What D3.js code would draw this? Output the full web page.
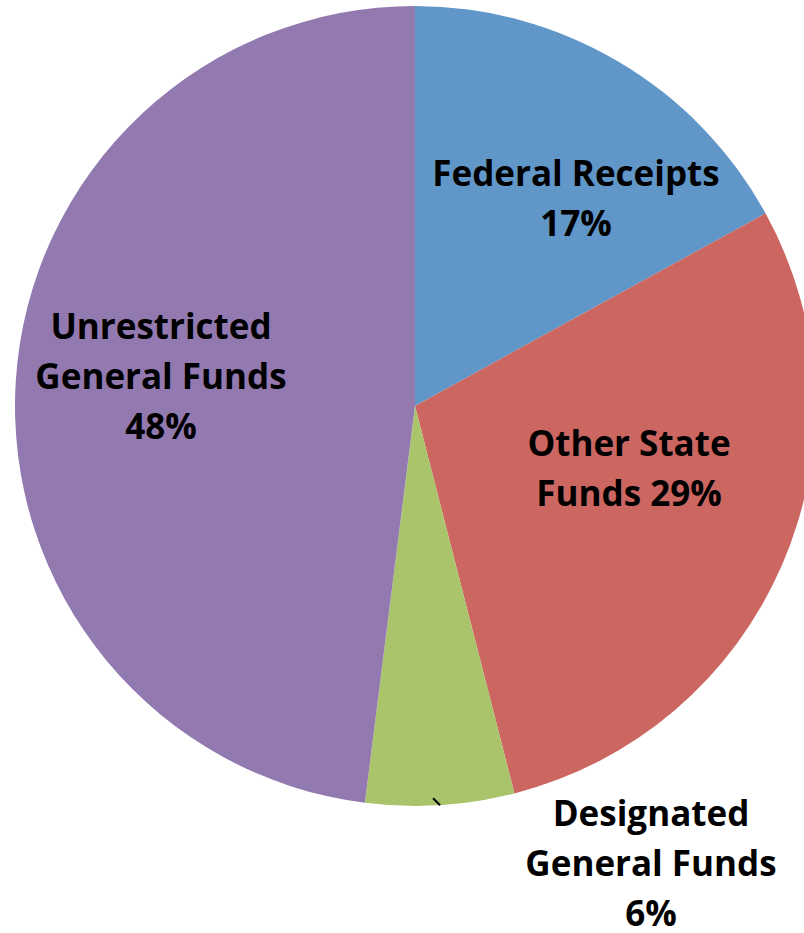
<!DOCTYPE html>
<html><head><meta charset="utf-8">
<script src="https://cdn.jsdelivr.net/npm/d3@7"></script>
<style>html,body{margin:0;padding:0;background:#fff;overflow:hidden}</style>
</head><body>
<svg id="chart" width="804" height="933"></svg>
<script>
const categories = ["Federal Receipts", "Other State Funds", "Designated General Funds", "Unrestricted General Funds"];
const values = [17, 29, 6, 48];
const colors = ["#6196C8", "#CC6660", "#AAC46C", "#9279B0"];
const labelLines = [
  ["Federal Receipts", "17%"],
  ["Other State", "Funds 29%"],
  ["Designated", "General Funds", "6%"],
  ["Unrestricted", "General Funds", "48%"]
];

const svg = d3.select("#chart");
const cx = 415, cy = 406, r = 400;
const g = svg.append("g").attr("transform", `translate(${cx},${cy})`);

const pie = d3.pie().sort(null).value(d => d.v);
const data = pie(values.map((v, i) => ({v, i})));
const arc = d3.arc().innerRadius(0).outerRadius(r);

g.selectAll("path.slice").data(data).enter().append("path")
  .attr("class", "slice")
  .attr("d", arc)
  .attr("fill", d => colors[d.data.i]);

const labelPos = [
  {x: 576, y: 186},
  {x: 629, y: 456},
  {x: 651, y: 826},
  {x: 161, y: 339}
];
const lineH = 50;
const fs = 35;

data.forEach((d) => {
  const p = labelPos[d.data.i];
  const t = svg.append("text")
    .attr("text-anchor", "middle")
    .attr("font-family", "'Open Sans', sans-serif")
    .attr("font-weight", "bold")
    .attr("font-size", fs)
    .attr("fill", "#000");
  labelLines[d.data.i].forEach((ln, j) => {
    t.append("tspan").attr("x", p.x).attr("y", p.y + j * lineH).text(ln);
  });
});

// small leader line for the designated slice
const dg = data[2];
const mid = (dg.startAngle + dg.endAngle) / 2;
const ex = r * Math.sin(mid), ey = -r * Math.cos(mid);
g.append("line")
  .attr("x1", ex).attr("y1", ey)
  .attr("x2", ex - 7).attr("y2", ey - 7)
  .attr("stroke", "#000").attr("stroke-width", 2);
</script>
</body></html>
